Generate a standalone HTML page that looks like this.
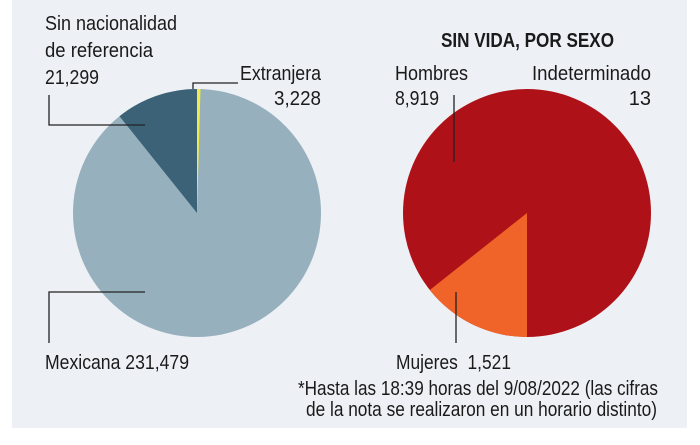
<!DOCTYPE html>
<html><head><meta charset="utf-8"><style>
html,body{margin:0;padding:0;background:#fff;}
body{width:700px;height:440px;overflow:hidden;}
text{font-family:"Liberation Sans Narrow","Liberation Sans",sans-serif;fill:#1a1a1a;}
</style></head><body>
<svg width="700" height="440" viewBox="0 0 700 440" xmlns="http://www.w3.org/2000/svg">
<rect x="12" y="0" width="675" height="428" fill="#edf1f5"/>
<g transform="translate(197,213)">
<circle r="124" fill="#97b0bd"/>
<path d="M0,0 L0,-124 A124,124 0 0 0 -77.5,-96.8 Z" fill="#3b6276"/>
<path d="M0,0 L0,-124 A124,124 0 0 1 3.5,-124 Z" fill="#f2ea4a"/>
</g>
<g transform="translate(527,213)">
<circle r="124" fill="#ae1218"/>
<path d="M0,0 L0,124 A124,124 0 0 1 -97.2,77 Z" fill="#f0642a"/>
</g>
<g stroke="#222" stroke-width="1.3" fill="none">
<polyline points="49,95 49,125 145,125"/>
<polyline points="193,89 193,83 238,83"/>
<polyline points="145,292 49,292 49,343"/>
<line x1="454" y1="95" x2="454" y2="162"/>
<line x1="456" y1="292" x2="456" y2="343"/>
</g>
<g font-size="20">
<text x="45" y="30" textLength="132" lengthAdjust="spacingAndGlyphs">Sin nacionalidad</text>
<text x="45" y="57" textLength="108" lengthAdjust="spacingAndGlyphs">de referencia</text>
<text x="45" y="84" textLength="54" lengthAdjust="spacingAndGlyphs">21,299</text>
<text x="240" y="80" textLength="81" lengthAdjust="spacingAndGlyphs">Extranjera</text>
<text x="274" y="105" textLength="47" lengthAdjust="spacingAndGlyphs">3,228</text>
<text x="441" y="47" textLength="173" lengthAdjust="spacingAndGlyphs" font-weight="bold">SIN VIDA, POR SEXO</text>
<text x="395" y="80" textLength="73" lengthAdjust="spacingAndGlyphs">Hombres</text>
<text x="395" y="105" textLength="44" lengthAdjust="spacingAndGlyphs">8,919</text>
<text x="532" y="80" textLength="119" lengthAdjust="spacingAndGlyphs">Indeterminado</text>
<text x="651" y="105" text-anchor="end">13</text>
<text x="45" y="369" textLength="144" lengthAdjust="spacingAndGlyphs">Mexicana 231,479</text>
<text x="396" y="369" textLength="115" lengthAdjust="spacingAndGlyphs" xml:space="preserve">Mujeres  1,521</text>
<text x="298" y="395" textLength="360" lengthAdjust="spacingAndGlyphs">*Hasta las 18:39 horas del 9/08/2022 (las cifras</text>
<text x="306" y="416" textLength="351" lengthAdjust="spacingAndGlyphs">de la nota se realizaron en un horario distinto)</text>
</g>
</svg>
</body></html>
